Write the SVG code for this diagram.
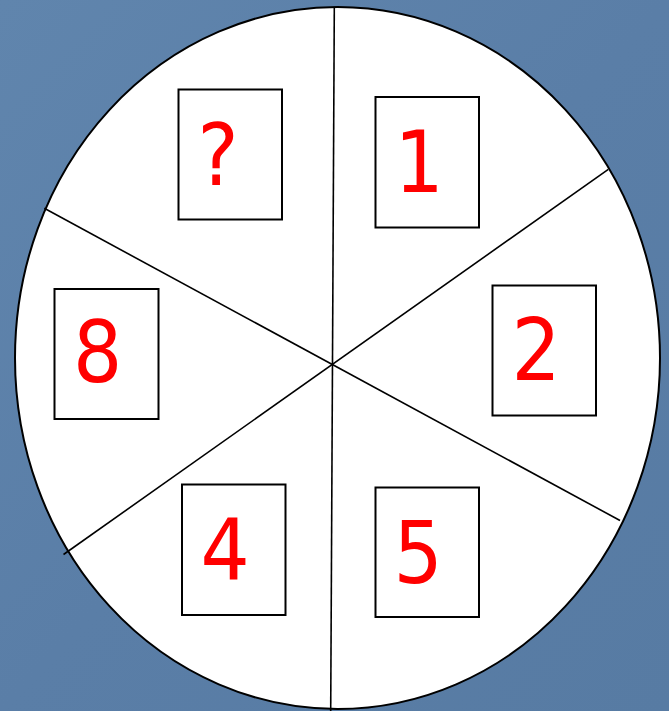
<svg xmlns="http://www.w3.org/2000/svg" width="669" height="711" viewBox="0 0 669 711">
<defs>
<style>
.box{fill:#ffffff;stroke:#000000;stroke-width:2}
.num{font-family:"DejaVu Sans Condensed","DejaVu Sans",Verdana,sans-serif;font-size:86px;fill:#ff0000;text-anchor:middle}
.sep{stroke:#000000;stroke-width:1.6;fill:none}
</style>
<linearGradient id="bg" x1="0" y1="0" x2="1" y2="1">
<stop offset="0" stop-color="#6085ad"/>
<stop offset="0.5" stop-color="#5a7ea7"/>
<stop offset="1" stop-color="#577ba3"/>
</linearGradient>
</defs>
<rect x="0" y="0" width="669" height="711" fill="url(#bg)"/>
<g id="wheel">
<ellipse cx="337.5" cy="358" rx="322.5" ry="351" fill="#ffffff" stroke="#000000" stroke-width="2"/>
</g>
<g id="connectors">
<line class="sep" x1="334.3" y1="8" x2="330.7" y2="711"/>
<line class="sep" x1="44.3" y1="208.3" x2="620" y2="520.5"/>
<line class="sep" x1="608.3" y1="169.3" x2="63.5" y2="554.5"/>
</g>
<g id="node-q">
<rect class="box" x="178.5" y="89.5" width="103.5" height="130"/>
<text class="num" x="218" y="185">?</text>
</g>
<g id="node-1">
<rect class="box" x="375.5" y="97" width="103.5" height="130.5"/>
<text class="num" x="419" y="192">1</text>
</g>
<g id="node-2">
<rect class="box" x="492.5" y="285.5" width="103.5" height="130"/>
<text class="num" x="536" y="380">2</text>
</g>
<g id="node-8">
<rect class="box" x="54.5" y="289" width="104" height="130"/>
<text class="num" x="97.5" y="382">8</text>
</g>
<g id="node-4">
<rect class="box" x="182" y="484.5" width="103.5" height="130.5"/>
<text class="num" x="225" y="580">4</text>
</g>
<g id="node-5">
<rect class="box" x="375.5" y="487.5" width="103.5" height="129.5"/>
<text class="num" x="418" y="583">5</text>
</g>
</svg>
